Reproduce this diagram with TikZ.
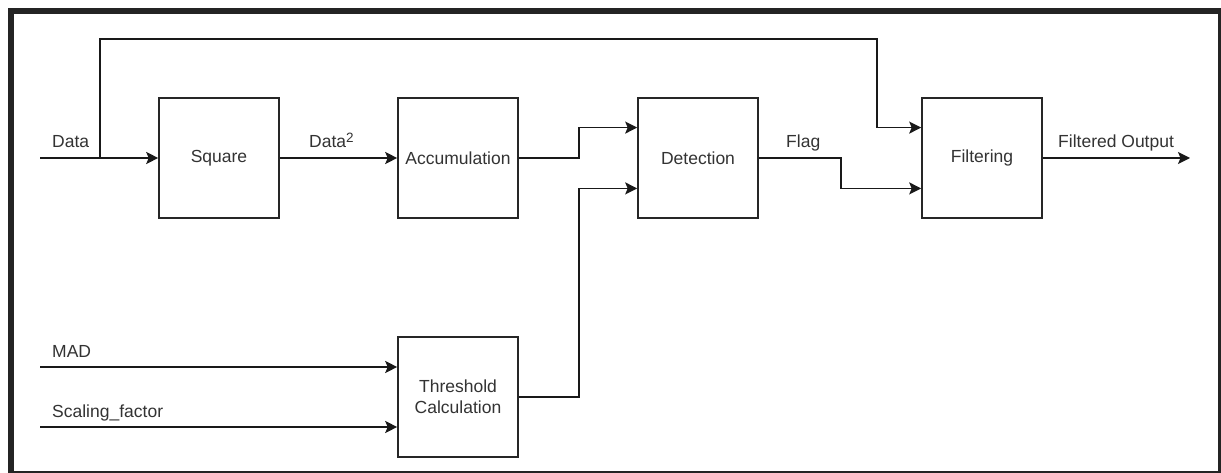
\documentclass[tikz,border=0pt]{standalone}
\usepackage{fontspec}
\setmainfont{Liberation Sans}
\usetikzlibrary{arrows.meta,calc}

\begin{document}
\begin{tikzpicture}[x=1pt,y=-1pt,
  every node/.style={font=\fontsize{17.5}{22}\selectfont, text=black!80},
  blk/.style={draw=black!85, line width=1.6pt, minimum width=120pt,
    minimum height=120pt, inner sep=0pt, align=center},
  arr/.style={draw=black!90, line width=1.7pt,
    -{Stealth[length=12pt,width=12pt,inset=2.5pt]}},
  lbl/.style={anchor=base west, inner sep=0pt}]

% page and frame
\useasboundingbox (0,0) rectangle (1221,473);
\fill[white] (0,0) rectangle (1221,473);
\fill[black!86] (8,8) rectangle (1221,473);
\fill[white] (14,14) rectangle (1218,471);

% processing blocks
\node[blk] (sq)   at (219,158) {Square};
\node[blk] (acc)  at (458,158) {Accumulation};
\node[blk] (det)  at (698,158) {Detection};
\node[blk] (filt) at (982,158) {Filtering};
\node[blk] (thr)  at (458,397) {Threshold\\[-1pt]Calculation};

% ports on the left side of the two-input blocks
\coordinate (detA)  at ($(det.west)!0.5!(det.north west)$);
\coordinate (detB)  at ($(det.west)!0.5!(det.south west)$);
\coordinate (filtA) at ($(filt.west)!0.5!(filt.north west)$);
\coordinate (filtB) at ($(filt.west)!0.5!(filt.south west)$);

% free ends
\coordinate (din)   at (40,158);
\coordinate (dtap)  at (100,158);
\coordinate (byp)   at (877,39);
\coordinate (madin) at (40,367);
\coordinate (sfin)  at (40,427);
\coordinate (out)   at (1190,158);

% signal flow
\draw[arr] (din) -- (sq.west);
\draw[arr] (dtap) -- (dtap |- byp) -- (byp) |- (filtA);
\draw[arr] (sq) -- (acc);
\draw[arr] (acc.east) -- ++(60,0) |- (detA);
\draw[arr] (thr.east) -- ++(60,0) |- (detB);
\draw[arr] (det.east) -- ++(82,0) |- (filtB);
\draw[arr] (filt) -- (out);
\draw[arr] (madin) -- (madin -| thr.west);
\draw[arr] (sfin) -- (sfin -| thr.west);

% signal labels
\node[lbl] (ldata) at (52,148) {Data};
\node[lbl] (lsq)   at (309,148) {Data\raisebox{5pt}{\fontsize{13.5}{14}\selectfont 2}};
\node[lbl] (lflag) at (786,148) {Flag};
\node[lbl] (lout)  at (1058,148) {Filtered Output};
\node[lbl] (lmad)  at (52,357) {MAD};
\node[lbl] (lsf)   at (52,417) {Scaling\_factor};
\end{tikzpicture}
\end{document}
